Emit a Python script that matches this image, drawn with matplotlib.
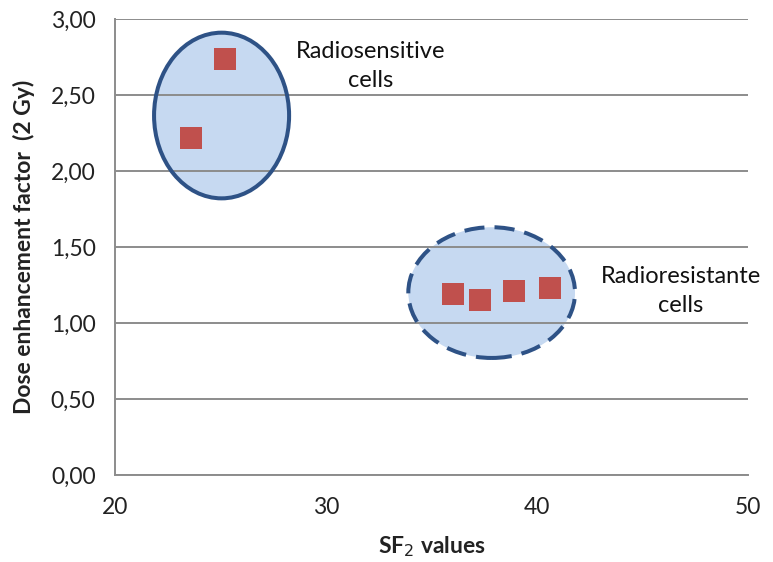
import matplotlib.pyplot as plt
from matplotlib.patches import Ellipse
from matplotlib.ticker import FuncFormatter

plt.rcParams['font.family'] = ['Lato', 'DejaVu Sans']

# data
sf2 = [23.6, 25.2, 36.0, 37.3, 38.9, 40.6]
def_2gy = [2.22, 2.74, 1.19, 1.15, 1.21, 1.23]

# groups: (center x, center y, width, height, dashed)
groups = [(25.05, 2.365, 6.4, 1.09, False),
          (37.85, 1.20, 7.9, 0.86, True)]
group_labels = ['Radiosensitive\ncells', 'Radioresistante\ncells']
label_pos = [(32.1, 2.69), (46.8, 1.21)]

fig = plt.figure(figsize=(7.73, 5.62), dpi=100)
ax = fig.add_axes([0.1488, 0.1548, 0.8189, 0.8114])

fill_col = '#c6d9f1'
edge_col = '#2e5286'
for (cx, cy, w, h, dashed) in groups:
    ax.add_patch(Ellipse((cx, cy), w, h, facecolor=fill_col, edgecolor='none', zorder=0.4))
    e = Ellipse((cx, cy), w, h, facecolor='none', edgecolor=edge_col, lw=2.9, zorder=2)
    if dashed:
        e.set_linestyle((0, (5, 2.5)))
    ax.add_patch(e)

ax.scatter(sf2, def_2gy, marker='s', s=240, color='#c0504d', linewidths=0, zorder=3)

for txt, (x, y) in zip(group_labels, label_pos):
    ax.text(x, y, txt, ha='center', va='center', fontsize=17, linespacing=1.5,
            color='#111111', clip_on=False)

ax.set_xlim(20, 50)
ax.set_ylim(0, 3)
ax.set_xticks([20, 30, 40, 50])
ax.set_yticks([0, 0.5, 1, 1.5, 2, 2.5, 3])
ax.yaxis.set_major_formatter(FuncFormatter(lambda v, p: f'{v:.2f}'.replace('.', ',')))
ax.set_axisbelow(True)
ax.grid(axis='y', color='#8c8c8c', lw=1.4)
ax.tick_params(length=0, labelsize=16.5, colors='#222222')
ax.tick_params(axis='x', pad=16)
ax.tick_params(axis='y', pad=14)

for s in ['top', 'right']:
    ax.spines[s].set_visible(False)
for s in ['left', 'bottom']:
    ax.spines[s].set_color('#8c8c8c')
    ax.spines[s].set_linewidth(1.4)

ax.set_xlabel('SF$_2$ values', fontsize=16.5, fontweight='bold', color='#222222')
ax.set_ylabel('Dose enhancement factor  (2 Gy)', fontsize=16.5, fontweight='bold', color='#222222')
ax.xaxis.set_label_coords(0.5, -0.13)
ax.yaxis.set_label_coords(-0.126, 0.5)

fig.savefig('out.png', dpi=100)
